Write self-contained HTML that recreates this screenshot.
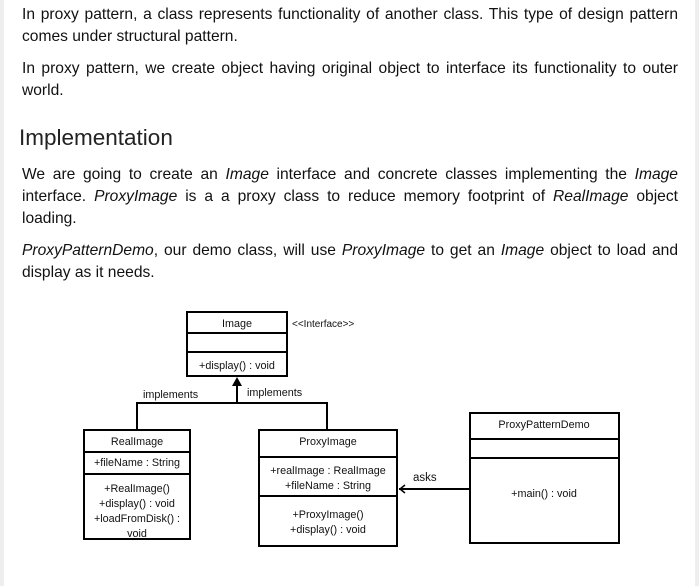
<!DOCTYPE html>
<html><head><meta charset="utf-8"><style>
html,body{margin:0;padding:0}
body{width:699px;height:586px;background:#eeeeee;position:relative;overflow:hidden;font-family:"Liberation Sans",Arial,sans-serif;color:#111}
#main{position:absolute;left:4px;top:0;width:691px;height:586px;background:#fff}
.l{position:absolute;left:22px;width:656px;font-size:15.6px;line-height:22px;white-space:nowrap}
.j{text-align:justify;text-align-last:justify;white-space:normal;height:22px;overflow:hidden}
h2{position:absolute;left:19px;top:123px;margin:0;font-weight:normal;font-size:22.5px;line-height:30px;color:#222}
svg{position:absolute;left:0;top:0}
svg text{font-family:"Liberation Sans",Arial,sans-serif;font-size:10.8px;fill:#111}
</style></head><body>
<div id="main"></div>
<div class="l j" style="top:4px">In proxy pattern, a class represents functionality of another class. This type of design pattern</div>
<div class="l" style="top:26px">comes under structural pattern.</div>
<div class="l j" style="top:58px">In proxy pattern, we create object having original object to interface its functionality to outer</div>
<div class="l" style="top:80px">world.</div>
<h2>Implementation</h2>
<div class="l j" style="top:164px">We are going to create an <i>Image</i> interface and concrete classes implementing the <i>Image</i></div>
<div class="l j" style="top:186px">interface. <i>ProxyImage</i> is a a proxy class to reduce memory footprint of <i>RealImage</i> object</div>
<div class="l" style="top:208px">loading.</div>
<div class="l j" style="top:240px"><i>ProxyPatternDemo</i>, our demo class, will use <i>ProxyImage</i> to get an <i>Image</i> object to load and</div>
<div class="l" style="top:262px">display as it needs.</div>
<svg width="699" height="586" viewBox="0 0 699 586">
<g fill="none" stroke="#000" stroke-width="2">
<rect x="187" y="312" width="100" height="64"/>
<line x1="187" y1="333" x2="287" y2="333"/><line x1="187" y1="352" x2="287" y2="352"/>
<rect x="84" y="430" width="106" height="109"/>
<line x1="84" y1="452" x2="190" y2="452"/><line x1="84" y1="474" x2="190" y2="474"/>
<rect x="259" y="430" width="138" height="116"/>
<line x1="259" y1="457" x2="397" y2="457"/><line x1="259" y1="496" x2="397" y2="496"/>
<rect x="470" y="413" width="149" height="130"/>
<line x1="470" y1="439" x2="619" y2="439"/><line x1="470" y1="458" x2="619" y2="458"/>
<polyline points="137,430 137,403 327,403 327,430"/>
<line x1="237" y1="403" x2="237" y2="382"/>
<line x1="399" y1="489" x2="470" y2="489"/>
<polyline points="405,485 400,489 405,493" stroke-width="1.5"/>
</g>
<polygon points="237,377 232,386 242,386" fill="#000"/>
<g text-anchor="middle">
<text x="237" y="327">Image</text>
<text x="237" y="369">+display()  : void</text>
<text x="137" y="445">RealImage</text>
<text x="137" y="466">+fileName  : String</text>
<text x="137" y="492">+RealImage()</text>
<text x="137" y="507">+display()  : void</text>
<text x="137" y="522">+loadFromDisk()   :</text>
<text x="137" y="537">void</text>
<text x="328" y="445">ProxyImage</text>
<text x="328" y="474">+realImage : RealImage</text>
<text x="328" y="489">+fileName  : String</text>
<text x="328" y="518">+ProxyImage()</text>
<text x="328" y="533">+display()  : void</text>
<text x="544" y="428">ProxyPatternDemo</text>
<text x="544" y="497">+main()  : void</text>
</g>
<text x="292" y="327" style="font-size:10px">&lt;&lt;Interface&gt;&gt;</text>
<text x="143" y="398">implements</text>
<text x="247" y="396">implements</text>
<text x="413" y="481" style="font-size:11.5px">asks</text>
</svg>
</body></html>
